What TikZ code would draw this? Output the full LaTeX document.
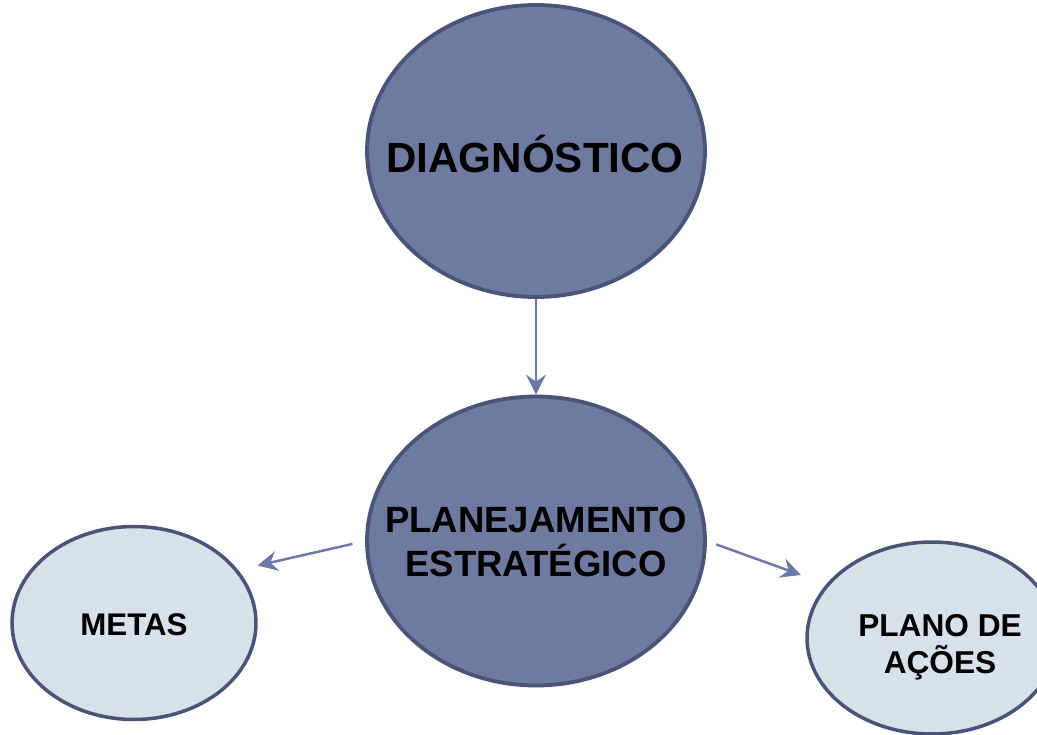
\documentclass[tikz,border=0pt]{standalone}
\usepackage{fontspec}
\setmainfont{Liberation Sans}
\usetikzlibrary{arrows.meta,shapes.geometric}

\definecolor{darkfill}{RGB}{111,122,161}
\definecolor{lightfill}{RGB}{216,224,234}
\definecolor{rim}{RGB}{74,84,118}
\definecolor{linkcol}{RGB}{108,120,165}

\begin{document}
\begin{tikzpicture}[x=0.02cm,y=-0.02cm,
  bigell/.style={ellipse,draw=rim,line width=2.2pt,fill=darkfill,inner sep=0pt},
  smallell/.style={ellipse,draw=rim,line width=2pt,fill=lightfill,inner sep=0pt},
  conn/.style={draw=linkcol,line width=1.4pt,-{Stealth[length=4mm,width=4mm,inset=1.4mm]}},
  txt/.style={font=\bfseries,align=center,inner sep=0pt}]
\useasboundingbox (0,0) rectangle (1037,734);

% the four ellipses
\node[bigell,minimum width=6.76cm,minimum height=5.84cm] (diag) at (536,151) {};
\node[bigell,minimum width=6.76cm,minimum height=5.78cm] (plan) at (536,541) {};
\node[smallell,minimum width=4.88cm,minimum height=3.86cm] (metas) at (134,623) {};
\node[smallell,minimum width=5cm,minimum height=3.84cm] (acoes) at (932,638) {};

% texts
\node[txt,font=\fontsize{24}{28}\selectfont\bfseries] (diagtxt) at (535,154) {DIAGNÓSTICO};
\node[txt,font=\fontsize{20.8}{25}\selectfont\bfseries] (plantxt) at (536,542) {PLANEJAMENTO\\ESTRATÉGICO};
\node[txt,font=\fontsize{17.8}{21}\selectfont\bfseries] (metastxt) at (134,625) {METAS};
\node[txt,font=\fontsize{18}{21}\selectfont\bfseries] (acoestxt) at (940,647) {PLANO DE\\AÇÕES};

% arrows
\draw[conn] (diag.south) -- (plan.north);
\draw[conn,shorten <=2.6mm,shorten >=4mm] (plan.west) -- (metas.27);
\draw[conn,shorten <=2mm,shorten >=5.4mm] (plan.east) -- (acoes.153);
\end{tikzpicture}
\end{document}
